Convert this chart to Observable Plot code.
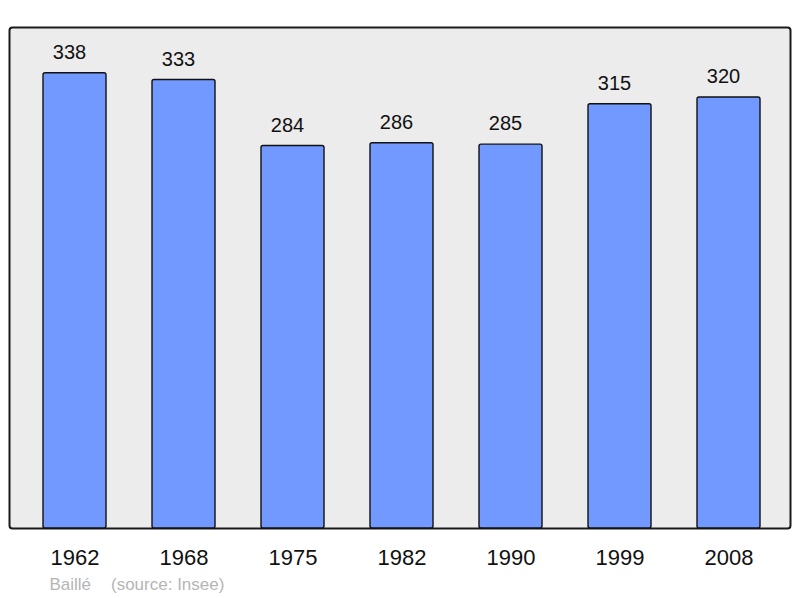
<!DOCTYPE html>
<html>
<head>
<meta charset="utf-8">
<script src="https://cdn.jsdelivr.net/npm/d3@7"></script>
<script src="https://cdn.jsdelivr.net/npm/@observablehq/plot@0.6"></script>
<style>
  html, body { margin: 0; padding: 0; background: #ffffff; }
  #chart svg { display: block; }
</style>
</head>
<body>
<div id="chart"></div>
<script>
const years = ["1962", "1968", "1975", "1982", "1990", "1999", "2008"];
const population = [338, 333, 284, 286, 285, 315, 320];
const author = ["Baillé"];
const source = ["(source: Insee)"];

const data = years.map((year, i) => ({year, value: population[i]}));

const chart = Plot.plot({
  width: 800,
  height: 598,
  marginLeft: 9,
  marginRight: 10,
  marginTop: 27,
  marginBottom: 70,
  style: {fontFamily: "'Liberation Sans', Arial, sans-serif", background: "#ffffff"},
  x: {domain: years, paddingInner: 0.424, paddingOuter: 0, insetLeft: 32.5, insetRight: 28.5, label: null},
  y: {domain: [0, 372], axis: null},
  marks: [
    Plot.frame({fill: "#ececec", stroke: "#1a1a1a", strokeWidth: 2, rx: 3}),
    Plot.barY(data, {x: "year", y: "value", fill: "#7299ff", stroke: "#111111", strokeWidth: 1.4, rx: 2}),
    Plot.text(data, {x: "year", y: "value", text: d => String(d.value), lineAnchor: "bottom", dx: -5.5, dy: -14.5, fontSize: 20, fill: "#111111"}),
    Plot.axisX({tickSize: 0, tickPadding: 21, fontSize: 22, fill: "#111111"}),
    Plot.text(author, {text: d => d, frameAnchor: "bottom-left", textAnchor: "start", lineAnchor: "bottom", dx: 40, dy: 61, fontSize: 17, fill: "#b5b5b5"}),
    Plot.text(source, {text: d => d, frameAnchor: "bottom-left", textAnchor: "start", lineAnchor: "bottom", dx: 101.5, dy: 61, fontSize: 17, fill: "#b5b5b5"})
  ]
});
document.getElementById("chart").appendChild(chart);
</script>
</body>
</html>
